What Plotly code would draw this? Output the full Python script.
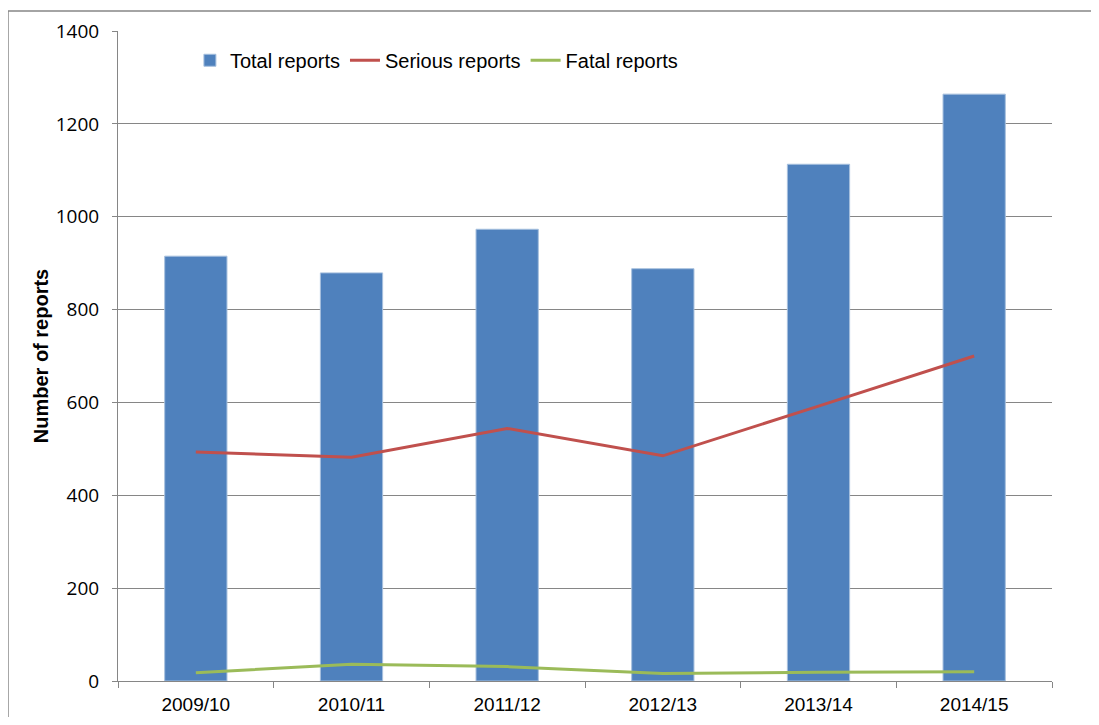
import plotly.graph_objects as go

categories = ["2009/10", "2010/11", "2011/12", "2012/13", "2013/14", "2014/15"]
total_reports = [915, 879, 973, 888, 1113, 1264]
serious_reports = [493, 482, 544, 485, 592, 700]
fatal_reports = [18, 36, 31, 16, 19, 20]

FONT = "Liberation Sans Narrow, Liberation Sans, Arial, sans-serif"

fig = go.Figure()
fig.add_trace(go.Bar(
    x=categories, y=total_reports, name="Total reports",
    marker=dict(color="#4F81BD", line=dict(color="#A7C0DE", width=1)),
    width=0.4,
))
fig.add_trace(go.Scatter(
    x=categories, y=serious_reports, name="Serious reports", mode="lines",
    line=dict(color="#C0504D", width=3),
))
fig.add_trace(go.Scatter(
    x=categories, y=fatal_reports, name="Fatal reports", mode="lines",
    line=dict(color="#9BBB59", width=3),
))

fig.update_layout(
    width=1083, height=709,
    margin=dict(l=110, r=39, t=23, b=36, autoexpand=False),
    paper_bgcolor="white", plot_bgcolor="white",
    font=dict(family=FONT, size=19, color="black"),
    showlegend=True,
    legend=dict(orientation="h", x=0.077, y=0.985, xanchor="left", yanchor="top",
                bgcolor="rgba(0,0,0,0)", font=dict(size=20), itemwidth=30,
                traceorder="normal"),
    bargap=0.6,
    shapes=[
        dict(type="line", xref="paper", yref="paper", x0=-0.1178, x1=1.2, y0=1.0308, y1=1.0308,
             line=dict(color="#868686", width=1.5)),
        dict(type="line", xref="paper", yref="paper", x0=-0.1178, x1=-0.1178, y0=-0.2, y1=1.0308,
             line=dict(color="#868686", width=1.5)),
    ],
)
fig.update_xaxes(
    showline=True, linecolor="#868686", linewidth=1,
    ticks="outside", tickson="boundaries", ticklen=6, tickcolor="#868686",
    showgrid=False, tickfont=dict(size=19), automargin=False,
    ticklabelstandoff=6,
)
fig.update_yaxes(
    range=[0, 1400], dtick=200,
    showline=True, linecolor="#868686", linewidth=1,
    ticks="outside", ticklen=5, tickcolor="#868686",
    showgrid=True, gridcolor="#868686", gridwidth=1,
    zeroline=False, automargin=False,
    tickfont=dict(size=19, family="Open Sans, sans-serif"),
    ticklabelstandoff=9,
    title=dict(text="<b>Number of reports</b>", font=dict(size=20), standoff=1),
)

fig.write_html("out.html")
